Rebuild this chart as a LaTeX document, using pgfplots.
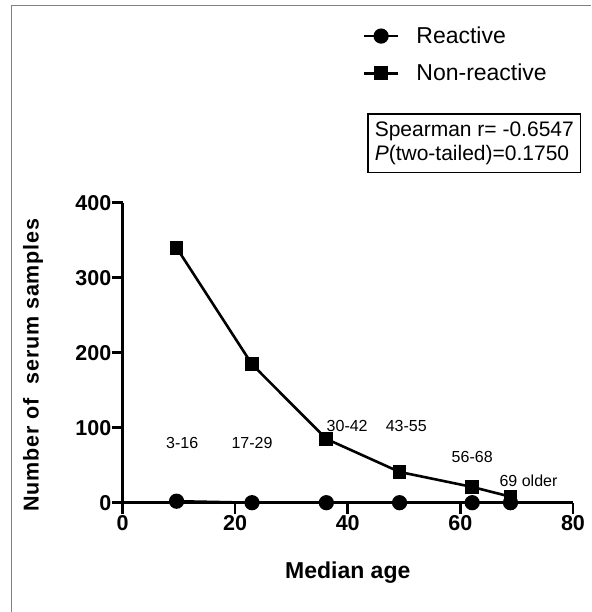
\documentclass[border=0pt]{standalone}
\usepackage{pgfplots}
\pgfplotsset{compat=1.18}
\usepackage{fontspec}
\setmainfont{Liberation Sans}
\begin{document}
\begin{tikzpicture}[x=1pt,y=1pt]
\path[use as bounding box] (0,0) rectangle (591,612);
\draw[gray, line width=1.5pt] (11.5,0) -- (11.5,606.5) -- (591,606.5);
\begin{axis}[
 at={(122.5pt,109.3pt)}, anchor=south west,
 scale only axis, width=450.5pt, height=300pt,
 xmin=0,xmax=80,ymin=0,ymax=400,
 axis x line*=bottom, axis y line*=left,
 axis line style={line width=2.6pt, -},
 xtick={0,20,...,80}, ytick={0,100,...,400},
 minor tick num=0,
 tick style={line width=2.6pt, black},
 tick align=outside, major tick length=11pt,
 xticklabel style={font=\fontsize{21.5}{23}\selectfont\bfseries, inner sep=1pt, yshift=-1pt},
 yticklabel style={font=\fontsize{21.5}{23}\selectfont\bfseries, inner sep=0pt},
 /pgf/number format/assume math mode=true,
 clip=false,
 xlabel={Median age},
 ylabel={Number of\ \ serum samples},
 xlabel style={font=\fontsize{23}{25}\selectfont\bfseries, at={(axis description cs:0.5,-0.2333)}, anchor=center},
 ylabel style={font=\fontsize{21.5}{23}\selectfont\bfseries\addfontfeature{LetterSpace=4}, at={(axis description cs:-0.1987,0.459)}, anchor=center},
 legend style={at={(axis description cs:0.533,1.593)}, anchor=north west, draw=none, fill=none, inner sep=0pt,
   font=\fontsize{23}{25}\selectfont, row sep=15pt,
   nodes={inner sep=2pt, anchor=west}},
 legend cell align=left,
 legend image code/.code={\draw[#1,mark repeat=2,mark phase=2] plot coordinates {(0pt,0pt)(17pt,0pt)(34pt,0pt)};},
 legend style={/tikz/every odd column/.append style={column sep=15pt}},
]
\addplot[black, line width=2.6pt, mark=*, mark size=6.3pt] coordinates {
 (9.6,2) (23,0) (36.2,0) (49.2,0) (62.1,0) (68.9,0)};
\addlegendentry{Reactive}
\addplot[black, line width=2.6pt, mark=square*, mark size=5.6pt] coordinates {
 (9.6,340) (23,184.5) (36.2,85) (49.2,41) (62.1,21) (68.9,8)};
\addlegendentry{Non-reactive}
\begin{scope}[every node/.style={font=\fontsize{16}{18}\selectfont}]
\node at (axis cs:10.6,80) {3-16};
\node at (axis cs:23,80) {17-29};
\node at (axis cs:39.9,102) {30-42};
\node at (axis cs:50.4,102) {43-55};
\node at (axis cs:62.1,61) {56-68};
\node at (axis cs:72.1,29) {69 older};
\end{scope}
\end{axis}
\node[draw, line width=1.3pt, align=left, font=\fontsize{21}{24}\selectfont,
  minimum width=212.7pt, minimum height=58.7pt, inner sep=3pt]
  at (474.3,468.7) {Spearman r= -0.6547\\\textit{P}(two-tailed)=0.1750};
\end{tikzpicture}
\end{document}
